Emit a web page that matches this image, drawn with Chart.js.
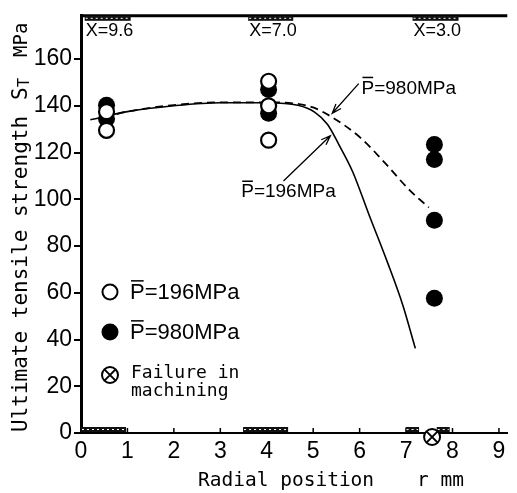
<!DOCTYPE html>
<html lang="en">
<head>
    <meta charset="UTF-8">
    <title>Ultimate tensile strength vs radial position</title>
    <script src="https://cdn.jsdelivr.net/npm/chart.js"></script>
    <style>
        html, body { margin: 0; padding: 0; background: #fff; }
        .wrap { width: 517px; height: 493px; position: relative; }
    </style>
</head>
<body>
    <div class="wrap"><canvas id="tsChart"></canvas></div>

    <script>
        // measured points, p = 196 MPa (open circles)
        const openX = [0.55, 0.55, 4.04, 4.04, 4.04];
        const openY = [137.5, 129.5, 150.5, 140, 125.3];
        // measured points, p = 980 MPa (filled circles)
        const filledX = [0.55, 0.55, 4.04, 4.04, 7.61, 7.61, 7.61, 7.61];
        const filledY = [140.2, 134.5, 147, 136.8, 123.4, 117, 91, 57.7];
        // fitted curves
        const curve196X = [0.2, 1, 2, 3, 4, 4.67, 5.03, 5.31, 5.55, 5.85, 6.2, 6.6, 6.93, 7.2];
        const curve196Y = [134, 137.5, 140, 141.3, 141.3, 140.2, 137.3, 132, 123.5, 111.8, 93.5, 73, 54.7, 36.2];
        const curve980X = [0.5, 1, 2, 3, 4, 4.67, 5.0, 5.39, 6.02, 6.57, 7.07, 7.49];
        const curve980Y = [135, 137.5, 140.3, 141.5, 141.5, 140.8, 139.3, 135.3, 126.3, 115, 104, 96.5];
        // failure in machining
        const failX = [7.56];
        const failY = [0];
        // specimen regions (mm) marked on the axes
        const topBars = [[0.08, 1.07], [3.6, 4.57], [7.14, 8.13]];
        const topLabels = ['X=9.6', 'X=7.0', 'X=3.0'];
        const bottomBars = [[0, 0.97], [3.49, 4.46], [6.99, 7.28], [7.66, 7.94]];
        const xTicks = [1, 2, 3, 4, 5, 6, 7, 8, 9];

        const toPts = (xs, ys) => xs.map((x, i) => ({ x: x, y: ys[i] }));

        function pText(ctx, text, x, y, size) {
            // text like "P=196MPa" with a bar over the P
            ctx.font = size + 'px "Liberation Sans"';
            ctx.textAlign = 'left';
            ctx.textBaseline = 'middle';
            ctx.fillText(text, x, y);
            const w = ctx.measureText('P').width;
            ctx.beginPath();
            ctx.lineWidth = 1.5;
            ctx.moveTo(x + 1, y - size * 0.37 - 4);
            ctx.lineTo(x + w - 1, y - size * 0.37 - 4);
            ctx.stroke();
        }

        function arrow(ctx, x1, y1, x2, y2) {
            // line from (x1,y1) with open head at (x2,y2)
            const a = Math.atan2(y2 - y1, x2 - x1);
            ctx.beginPath();
            ctx.lineWidth = 1.3;
            ctx.moveTo(x1, y1);
            ctx.lineTo(x2, y2);
            ctx.moveTo(x2 - 10 * Math.cos(a - 0.35), y2 - 10 * Math.sin(a - 0.35));
            ctx.lineTo(x2, y2);
            ctx.lineTo(x2 - 10 * Math.cos(a + 0.35), y2 - 10 * Math.sin(a + 0.35));
            ctx.stroke();
        }

        function crossCircle(ctx, x, y, r) {
            ctx.beginPath();
            ctx.lineWidth = 2;
            ctx.fillStyle = '#fff';
            ctx.arc(x, y, r, 0, Math.PI * 2);
            ctx.fill();
            ctx.stroke();
            const d = r * 0.7;
            ctx.beginPath();
            ctx.moveTo(x - d, y - d); ctx.lineTo(x + d, y + d);
            ctx.moveTo(x + d, y - d); ctx.lineTo(x - d, y + d);
            ctx.stroke();
        }

        function hatch(ctx, x0, x1, y0, h) {
            ctx.fillStyle = '#111';
            ctx.fillRect(x0, y0, x1 - x0, h);
            ctx.strokeStyle = '#fff';
            ctx.lineWidth = 1;
            ctx.setLineDash([2, 3]);
            ctx.beginPath();
            ctx.moveTo(x0 + 1, y0 + h / 2);
            ctx.lineTo(x1 - 1, y0 + h / 2);
            ctx.stroke();
            ctx.setLineDash([]);
            ctx.strokeStyle = '#000';
        }

        const decorations = {
            id: 'decorations',
            afterDraw(chart) {
                const ctx = chart.ctx;
                const xs = chart.scales.x, ys = chart.scales.y;
                const area = chart.chartArea;
                ctx.save();
                ctx.strokeStyle = '#000';
                ctx.fillStyle = '#000';

                // thick frame line on top
                ctx.beginPath();
                ctx.lineWidth = 3;
                ctx.moveTo(area.left, area.top);
                ctx.lineTo(area.right, area.top);
                ctx.stroke();

                // inward ticks on the r axis
                ctx.lineWidth = 1.5;
                xTicks.forEach(v => {
                    const px = xs.getPixelForValue(v);
                    ctx.beginPath();
                    ctx.moveTo(px, area.bottom);
                    ctx.lineTo(px, area.bottom - 5);
                    ctx.stroke();
                });

                // specimen regions
                topBars.forEach(b => {
                    hatch(ctx, xs.getPixelForValue(b[0]), xs.getPixelForValue(b[1]), area.top, 5);
                });
                bottomBars.forEach(b => {
                    hatch(ctx, xs.getPixelForValue(b[0]), xs.getPixelForValue(b[1]), area.bottom - 6, 5);
                });

                ctx.fillStyle = '#000';
                ctx.font = '18px "Liberation Sans"';
                ctx.textAlign = 'left';
                ctx.textBaseline = 'middle';
                topLabels.forEach((t, i) => {
                    ctx.fillText(t, xs.getPixelForValue(topBars[i][0]) + 1, area.top + 15);
                });

                // failure marker
                failX.forEach((v, i) => {
                    crossCircle(ctx, xs.getPixelForValue(v), ys.getPixelForValue(failY[i]) + 4, 8);
                });

                // curve labels with arrows
                ctx.fillStyle = '#000';
                pText(ctx, 'P=980MPa', xs.getPixelForValue(6.04), ys.getPixelForValue(147.4), 19);
                arrow(ctx, xs.getPixelForValue(5.98), ys.getPixelForValue(149.5),
                      xs.getPixelForValue(5.41), ys.getPixelForValue(136.8));
                pText(ctx, 'P=196MPa', xs.getPixelForValue(3.45), ys.getPixelForValue(103), 19);
                arrow(ctx, xs.getPixelForValue(4.36), ys.getPixelForValue(107.8),
                      xs.getPixelForValue(5.37), ys.getPixelForValue(127.2));

                // legend inside the plot
                const lx = area.left + 29;
                ctx.beginPath();
                ctx.lineWidth = 2;
                ctx.fillStyle = '#fff';
                ctx.arc(lx, 292, 7.5, 0, Math.PI * 2);
                ctx.fill();
                ctx.stroke();
                ctx.fillStyle = '#000';
                pText(ctx, 'P=196MPa', lx + 20, 293, 22);
                ctx.beginPath();
                ctx.arc(lx, 332, 8.5, 0, Math.PI * 2);
                ctx.fill();
                pText(ctx, 'P=980MPa', lx + 20, 333, 22);
                crossCircle(ctx, lx, 375, 8);
                ctx.fillStyle = '#000';
                ctx.font = '18px "DejaVu Sans Mono"';
                ctx.textAlign = 'left';
                ctx.textBaseline = 'middle';
                ctx.fillText('Failure in', lx + 21, 373);
                ctx.fillText('machining', lx + 21, 391);

                // axis titles
                ctx.font = '19.5px "DejaVu Sans Mono"';
                ctx.fillText('Radial position', 198, 481);
                ctx.fillText('r mm', 417, 481);

                ctx.translate(22, 432);
                ctx.rotate(-Math.PI / 2);
                ctx.font = '21px "DejaVu Sans Mono"';
                ctx.fillText('Ultimate tensile strength', 0, 0);
                ctx.fillText('S', 332, 0);
                ctx.font = '15px "DejaVu Sans Mono"';
                ctx.fillText('T', 345, 3);
                ctx.font = '19px "DejaVu Sans Mono"';
                ctx.fillText('MPa', 375, 0);
                ctx.restore();
            }
        };

        const ctx = document.getElementById('tsChart').getContext('2d');
        const tsChart = new Chart(ctx, {
            type: 'scatter',
            data: {
                datasets: [
                    {
                        label: 'p=196MPa',
                        data: toPts(openX, openY),
                        pointStyle: 'circle',
                        pointRadius: 7.5,
                        backgroundColor: '#fff',
                        borderColor: '#000',
                        borderWidth: 2.2
                    },
                    {
                        label: 'p=980MPa',
                        data: toPts(filledX, filledY),
                        pointStyle: 'circle',
                        pointRadius: 8.5,
                        backgroundColor: '#000',
                        borderColor: '#000',
                        borderWidth: 0
                    },
                    {
                        label: 'curve 196',
                        data: toPts(curve196X, curve196Y),
                        showLine: true,
                        pointRadius: 0,
                        borderColor: '#000',
                        borderWidth: 1.6,
                        cubicInterpolationMode: 'monotone'
                    },
                    {
                        label: 'curve 980',
                        data: toPts(curve980X, curve980Y),
                        showLine: true,
                        pointRadius: 0,
                        borderColor: '#000',
                        borderWidth: 1.8,
                        borderDash: [8, 5],
                        cubicInterpolationMode: 'monotone'
                    }
                ]
            },
            options: {
                responsive: true,
                maintainAspectRatio: false,
                animation: false,
                layout: { padding: { top: 9, left: 0, right: 0, bottom: 0 } },
                plugins: {
                    legend: { display: false },
                    tooltip: { enabled: false }
                },
                scales: {
                    x: {
                        type: 'linear',
                        min: 0,
                        max: 9.18,
                        border: { color: '#000', width: 2 },
                        grid: { drawOnChartArea: false, drawTicks: false },
                        ticks: {
                            stepSize: 1,
                            includeBounds: false,
                            autoSkip: false,
                            maxRotation: 0,
                            color: '#000',
                            padding: 5,
                            font: { family: 'Liberation Sans', size: 23 }
                        },
                        afterFit(s) { s.height = 60; }
                    },
                    y: {
                        min: 0,
                        max: 178.5,
                        border: { color: '#000', width: 3 },
                        grid: { drawOnChartArea: false, tickLength: 7, color: '#000', lineWidth: 2 },
                        ticks: {
                            stepSize: 20,
                            includeBounds: false,
                            color: '#000',
                            padding: 2,
                            font: { family: 'Liberation Sans', size: 23 }
                        },
                        afterFit(s) { s.width = 81; }
                    }
                }
            },
            plugins: [decorations]
        });
    </script>
</body>
</html>
